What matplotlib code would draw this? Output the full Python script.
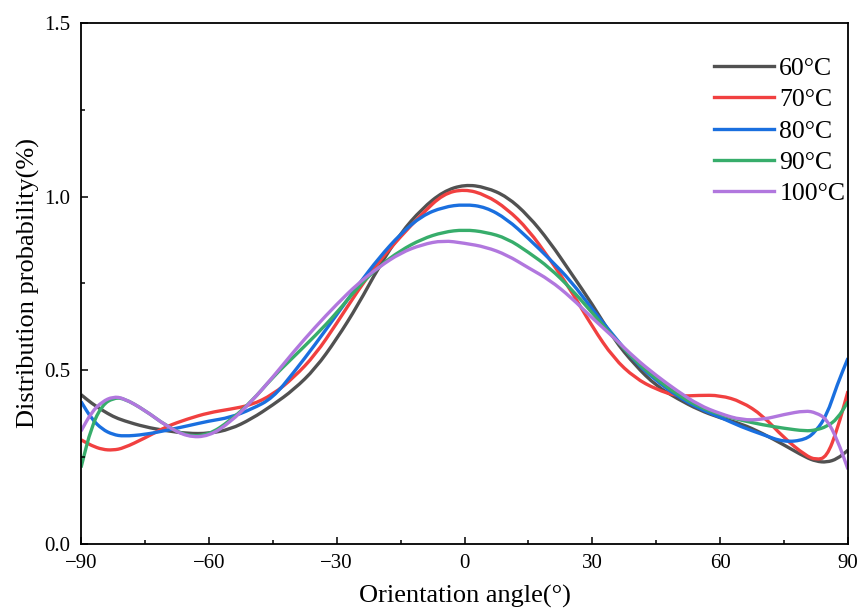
import matplotlib
matplotlib.use("Agg")
import matplotlib.pyplot as plt
import numpy as np
from matplotlib.path import Path
from matplotlib.patches import PathPatch
from matplotlib.lines import Line2D
from matplotlib.ticker import MultipleLocator, FormatStrFormatter

# orientation angle (deg) and distribution probability
angles = [-90, -87.5, -85, -82.5, -80, -75, -70, -65, -60, -55, -50, -45, -40,
          -35, -30, -25, -20, -15, -10, -5, 0, 5, 10, 15, 20, 25, 30, 35, 40,
          45, 50, 55, 60, 65, 70, 75, 80, 82.5, 85, 87.5, 90]

p60 = [0.43, 0.405, 0.385, 0.367, 0.355, 0.337, 0.326, 0.318, 0.318, 0.33,
       0.36, 0.40, 0.445, 0.505, 0.59, 0.688, 0.80, 0.895, 0.965, 1.015,
       1.035, 1.027, 1.0, 0.945, 0.87, 0.78, 0.69, 0.59, 0.515, 0.455, 0.418,
       0.386, 0.363, 0.346, 0.318, 0.285, 0.25, 0.238, 0.235, 0.245, 0.27]
p70 = [0.30, 0.283, 0.272, 0.27, 0.276, 0.305, 0.338, 0.36, 0.378, 0.388,
       0.40, 0.43, 0.48, 0.545, 0.635, 0.73, 0.815, 0.885, 0.95, 1.008,
       1.022, 1.005, 0.965, 0.905, 0.82, 0.73, 0.625, 0.535, 0.478, 0.445,
       0.425, 0.428, 0.428, 0.41, 0.37, 0.305, 0.255, 0.242, 0.25, 0.33, 0.44]
p80 = [0.41, 0.36, 0.33, 0.315, 0.31, 0.315, 0.327, 0.34, 0.354, 0.364,
       0.388, 0.42, 0.495, 0.575, 0.66, 0.745, 0.825, 0.893, 0.945, 0.97,
       0.978, 0.97, 0.935, 0.88, 0.82, 0.757, 0.675, 0.60, 0.525, 0.47, 0.425,
       0.39, 0.365, 0.337, 0.315, 0.293, 0.30, 0.325, 0.37, 0.46, 0.535]
p90 = [0.22, 0.34, 0.40, 0.42, 0.42, 0.385, 0.34, 0.31, 0.314, 0.355, 0.41,
       0.48, 0.54, 0.60, 0.665, 0.74, 0.80, 0.845, 0.878, 0.898, 0.905, 0.898,
       0.88, 0.84, 0.795, 0.735, 0.665, 0.595, 0.528, 0.475, 0.43, 0.395,
       0.372, 0.356, 0.343, 0.333, 0.325, 0.328, 0.338, 0.36, 0.41]
p100 = [0.325, 0.38, 0.41, 0.424, 0.42, 0.385, 0.34, 0.308, 0.31, 0.35,
        0.41, 0.48, 0.555, 0.625, 0.69, 0.75, 0.798, 0.838, 0.862, 0.874,
        0.866, 0.855, 0.832, 0.795, 0.76, 0.71, 0.65, 0.595, 0.535, 0.485,
        0.44, 0.40, 0.375, 0.357, 0.358, 0.373, 0.384, 0.378, 0.36, 0.30, 0.215]

labels = ["60°C", "70°C", "80°C", "90°C", "100°C"]
colors = ["#515151", "#F14040", "#1A6FDF", "#37AD6B", "#B177DE"]


def smooth_path(xs, ys):
    # quadratic bezier through the midpoints, read points act as control points
    pts = np.column_stack([xs, ys])
    mids = (pts[:-1] + pts[1:]) / 2
    verts = [pts[0], mids[0]]
    codes = [Path.MOVETO, Path.LINETO]
    for i in range(1, len(pts) - 1):
        verts += [pts[i], mids[i]]
        codes += [Path.CURVE3, Path.CURVE3]
    verts.append(pts[-1])
    codes.append(Path.LINETO)
    return Path(verts, codes)


plt.rcParams['font.family'] = ['Liberation Serif', 'DejaVu Serif']

fig = plt.figure(figsize=(8.59, 6.08), dpi=100)
ax = fig.add_axes([0.0943, 0.1053, 0.8929, 0.8569])

handles = []
for ys, lab, c in zip([p60, p70, p80, p90, p100], labels, colors):
    ax.add_patch(PathPatch(smooth_path(angles, ys), fill=False, edgecolor=c,
                           lw=2.4, joinstyle='round', capstyle='butt'))
    handles.append(Line2D([], [], color=c, lw=2.4, label=lab))

ax.set_xlim(-90, 90)
ax.set_ylim(0, 1.5)
ax.xaxis.set_major_locator(MultipleLocator(30))
ax.xaxis.set_minor_locator(MultipleLocator(15))
ax.yaxis.set_major_locator(MultipleLocator(0.5))
ax.yaxis.set_minor_locator(MultipleLocator(0.25))
ax.yaxis.set_major_formatter(FormatStrFormatter('%.1f'))
ax.tick_params(which='both', direction='in', width=1.1, labelsize=15)
ax.tick_params(which='major', length=5)
ax.tick_params(which='minor', length=3)
ax.tick_params(axis='x', which='major', pad=7)
ax.tick_params(axis='y', which='major', pad=7.5)
for s in ax.spines.values():
    s.set_linewidth(1.3)

ax.set_xlabel('Orientation angle(°)', fontsize=19, labelpad=9)
ax.set_ylabel('Distribution probability(%)', fontsize=19, labelpad=3)

ax.legend(handles=handles, loc='upper right', frameon=False, fontsize=18.5,
          handlelength=2.35, handletextpad=0.2, labelspacing=0.33,
          borderpad=0.2, bbox_to_anchor=(1.02, 0.97))

fig.savefig('out.png', dpi=100)
